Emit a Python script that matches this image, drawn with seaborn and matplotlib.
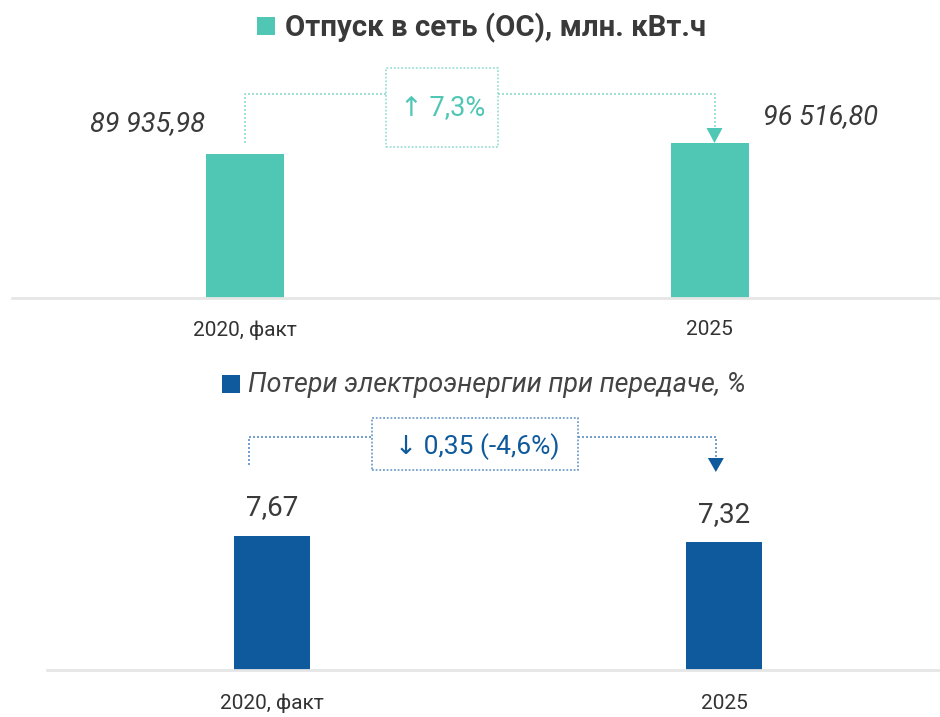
import matplotlib
matplotlib.use("Agg")
import matplotlib.pyplot as plt
import seaborn as sns
import pandas as pd
from matplotlib import font_manager as fm
from matplotlib.patches import Rectangle, Polygon

# ---------------- data ----------------
categories = ["2020, факт", "2025"]
supply_values = [89935.98, 96516.80]
supply_labels = ["89 935,98", "96 516,80"]
loss_values = [7.67, 7.32]
loss_labels = ["7,67", "7,32"]
title_top = "Отпуск в сеть (ОС), млн. кВт.ч"
title_bottom = "Потери электроэнергии при передаче, %"
change_top = "↑ 7,3%"
change_bottom = "↓ 0,35 (-4,6%)"

TEAL = "#50c6b5"
BLUE = "#0e5a9c"
DARK = "#3a3a3a"

sns.set_theme(style="white")
avail = {f.name for f in fm.fontManager.ttflist}
main_font = "Liberation Sans Narrow" if "Liberation Sans Narrow" in avail else "Roboto"
plt.rcParams["font.family"] = [main_font, "DejaVu Sans"]

W, H = 940, 717
fig = plt.figure(figsize=(W / 100, H / 100), dpi=100)


def add_axes_px(left, right, top, bottom):
    return fig.add_axes([left / W, 1 - bottom / H, (right - left) / W, (bottom - top) / H])


# ---------------- top panel ----------------
ax1 = add_axes_px(12, 940, 55, 298)
df1 = pd.DataFrame({"cat": categories, "val": supply_values})
sns.barplot(data=df1, x="cat", y="val", ax=ax1, color=TEAL, width=0.168,
            saturation=1, edgecolor="none")
ax1.set_xlim(-0.501, 1.495)
ax1.set_ylim(0, supply_values[0] * 243 / 144)

# ---------------- bottom panel ----------------
ax2 = add_axes_px(47, 940, 410, 670)
df2 = pd.DataFrame({"cat": categories, "val": loss_values})
sns.barplot(data=df2, x="cat", y="val", ax=ax2, color=BLUE, width=0.168,
            saturation=1, edgecolor="none")
ax2.set_xlim(-0.498, 1.478)
ax2.set_ylim(0, loss_values[0] * 260 / 134)

for ax in (ax1, ax2):
    ax.set_xlabel("")
    ax.set_ylabel("")
    ax.set_yticks([])
    for s in ("left", "right", "top"):
        ax.spines[s].set_visible(False)
    ax.spines["bottom"].set_color("#e6e6e6")
    ax.spines["bottom"].set_linewidth(2)
    ax.patch.set_alpha(0)
    ax.tick_params(axis="x", length=0, labelsize=15, labelcolor="#333333")
ax1.tick_params(axis="x", pad=16)
ax2.tick_params(axis="x", pad=17)

# value labels, top panel
ax1.annotate(supply_labels[0], xy=(0, supply_values[0]), xytext=(-40 / 1.389, 30 / 1.389),
             textcoords="offset points", ha="right", va="center", fontsize=19.5,
             style="italic", color=DARK)
ax1.annotate(supply_labels[1], xy=(1, supply_values[1]), xytext=(53 / 1.389, 26 / 1.389),
             textcoords="offset points", ha="left", va="center", fontsize=19.5,
             style="italic", color=DARK)

# value labels, bottom panel
for i, (v, lab) in enumerate(zip(loss_values, loss_labels)):
    ax2.annotate(lab, xy=(i, v), xytext=(0, 28 / 1.389), textcoords="offset points",
                 ha="center", va="center", fontsize=20, color=DARK)


# ---------------- connectors ----------------
def connector(ax, x_left, x_right, y_low_left, y_level, y_tri_top, y_tri_tip,
              box, text, text_xy, color, box_color, fontsize):
    tr = ax.get_xaxis_transform()
    bx0, bx1, by0, by1 = box
    ls = (0, (1.2, 1.2))
    ax.plot([x_left, x_left, bx0], [y_low_left, y_level, y_level], transform=tr,
            color=box_color, lw=1.2, ls=ls, clip_on=False)
    ax.plot([bx1, x_right, x_right], [y_level, y_level, y_tri_top], transform=tr,
            color=box_color, lw=1.2, ls=ls, clip_on=False)
    ax.add_patch(Rectangle((bx0, by0), bx1 - bx0, by1 - by0, transform=tr, fill=False,
                           edgecolor=box_color, lw=1.1, ls=ls, clip_on=False))
    hw = 8 / (ax.bbox.width / (ax.get_xlim()[1] - ax.get_xlim()[0]))
    ax.add_patch(Polygon([(x_right - hw, y_tri_top), (x_right + hw, y_tri_top),
                          (x_right, y_tri_tip)], closed=True, transform=tr,
                         facecolor=color, edgecolor="none", clip_on=False))
    ax.text(text_xy[0], text_xy[1], text, transform=tr, ha="center", va="center",
            color=color, fontsize=fontsize)


connector(ax1, 0.0, 1.01, 155 / 243, 204 / 243, 170 / 243, 155 / 243,
          (0.303, 0.544, 151 / 243, 230 / 243), change_top, (0.426, 190 / 243),
          TEAL, "#8fdacd", 19.5)
connector(ax2, -0.05, 0.982, 205 / 260, 233 / 260, 212 / 260, 198 / 260,
          (0.221, 0.677, 200 / 260, 252 / 260), change_bottom, (0.4535, 223 / 260),
          BLUE, "#5a8fc2", 19)

# ---------------- titles ----------------
fig.patches.append(Rectangle((257 / W, 1 - 35 / H), 18 / W, 18 / H, transform=fig.transFigure,
                             facecolor=TEAL, edgecolor="none"))
fig.text(285 / W, 1 - 28 / H, title_top, ha="left", va="center", fontsize=21.2,
         fontweight="bold", color=DARK)
fig.patches.append(Rectangle((222 / W, 1 - 393 / H), 18 / W, 18 / H, transform=fig.transFigure,
                             facecolor=BLUE, edgecolor="none"))
fig.text(248 / W, 1 - 385 / H, title_bottom, ha="left", va="center", fontsize=19.4,
         style="italic", color="#444444")

fig.savefig("out.png", dpi=100)
